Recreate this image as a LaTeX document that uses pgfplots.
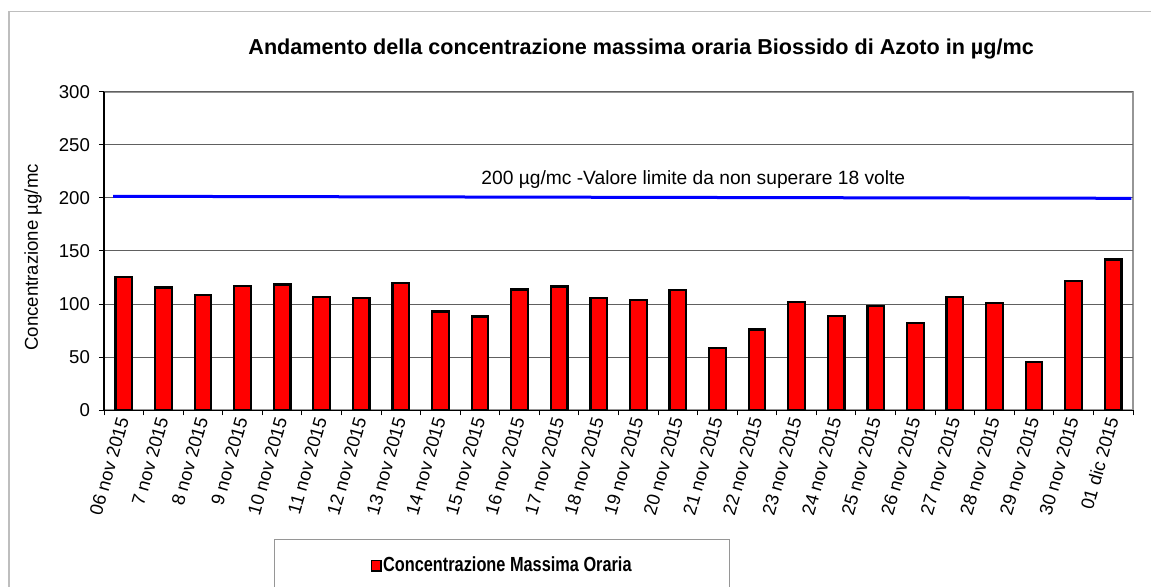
\documentclass[border=0pt]{standalone}
\usepackage{fontspec}
\setmainfont{Liberation Sans}
\usepackage{graphicx}
\usepackage{pgfplots}
\pgfplotsset{compat=1.18}
\definecolor{gridc}{RGB}{96,96,96}
\definecolor{framec}{RGB}{150,150,150}
\definecolor{outerc}{RGB}{190,190,190}
\begin{document}
\begin{tikzpicture}
\useasboundingbox (0,0) rectangle (575.5pt,293.5pt);
\fill[white] (0,0) rectangle (575.5pt,293.5pt);
\draw[outerc, line width=0.6pt] (4.5pt,0) -- (4.5pt,287.6pt) -- (575.5pt,287.6pt);
\begin{axis}[
  at={(52pt,88.35pt)}, anchor=south west,
  scale only axis, width=514.5pt, height=159.3pt,
  xmin=-0.5, xmax=25.5, ymin=0, ymax=300,
  axis x line*=bottom, axis y line*=left,
  axis line style={black, line width=0.7pt},
  axis background/.style={draw=framec, line width=1pt},
  ytick={0,50,...,300},
  ymajorgrids, grid style={gridc, line width=0.5pt},
  xtick={0,...,25},
  xticklabels={06 nov 2015,7 nov 2015,8 nov 2015,9 nov 2015,10 nov 2015,11 nov 2015,12 nov 2015,13 nov 2015,14 nov 2015,15 nov 2015,16 nov 2015,17 nov 2015,18 nov 2015,19 nov 2015,20 nov 2015,21 nov 2015,22 nov 2015,23 nov 2015,24 nov 2015,25 nov 2015,26 nov 2015,27 nov 2015,28 nov 2015,29 nov 2015,30 nov 2015,01 dic 2015},
  minor xtick={-0.5,0.5,...,25.5},
  major x tick style={draw=none},
  tick align=outside,
  major tick length=2.5pt, minor tick length=2.5pt,
  tick style={black, line width=0.5pt},
  /pgf/number format/assume math mode=true,
  yticklabel style={font=\fontsize{9.3}{10}\selectfont, xshift=-1pt},
  xticklabel style={font=\fontsize{9.2}{10}\selectfont, rotate=74, anchor=east, inner sep=1pt},
  ylabel={Concentrazione µg/mc},
  ylabel style={font=\fontsize{9.3}{10}\selectfont, at={(axis description cs:-0.069,0.48)}, anchor=center, rotate=0},
  title={\textbf{Andamento della concentrazione massima oraria Biossido di Azoto in µg/mc}},
  title style={font=\fontsize{10.8}{12}\selectfont, at={(axis description cs:0.522,1.0785)}, anchor=base},
  legend style={at={(axis description cs:0.3868,-0.4044)}, anchor=north, draw=framec, line width=0.6pt,
    inner xsep=48pt, inner ysep=8pt, fill=white,
    font=\fontsize{10.2}{11}\selectfont,
    nodes={inner xsep=0.8pt, inner ysep=0.5pt}},
  legend image code/.code={\draw[#1, line width=0.8pt] (0pt,-2.6pt) rectangle (4.6pt,2.6pt);},
]
\addplot[ybar, bar width=0.42, fill=red, draw=black, line width=1.1pt] coordinates {
(0,125.4) (1,115.7) (2,108.9) (3,117.3) (4,118.5) (5,107) (6,105.4) (7,120.2) (8,93.1) (9,88.4)
(10,113.8) (11,116.6) (12,105.5) (13,104) (14,113.2) (15,58.8) (16,76) (17,102.3) (18,88.5) (19,98.5)
(20,82.3) (21,107) (22,101) (23,45.7) (24,121.4) (25,142)};
\addlegendentry{\scalebox{0.8}[1]{\textbf{Concentrazione Massima Oraria}}}
\addplot[blue, line width=1.5pt, sharp plot, forget plot] coordinates {(-0.27,201.5) (25.46,199.6)};
\node[font=\fontsize{9.6}{10}\selectfont, anchor=base] at (axis cs:14.39,213) {200 µg/mc -Valore limite da non superare 18 volte};
\end{axis}
\end{tikzpicture}
\end{document}
